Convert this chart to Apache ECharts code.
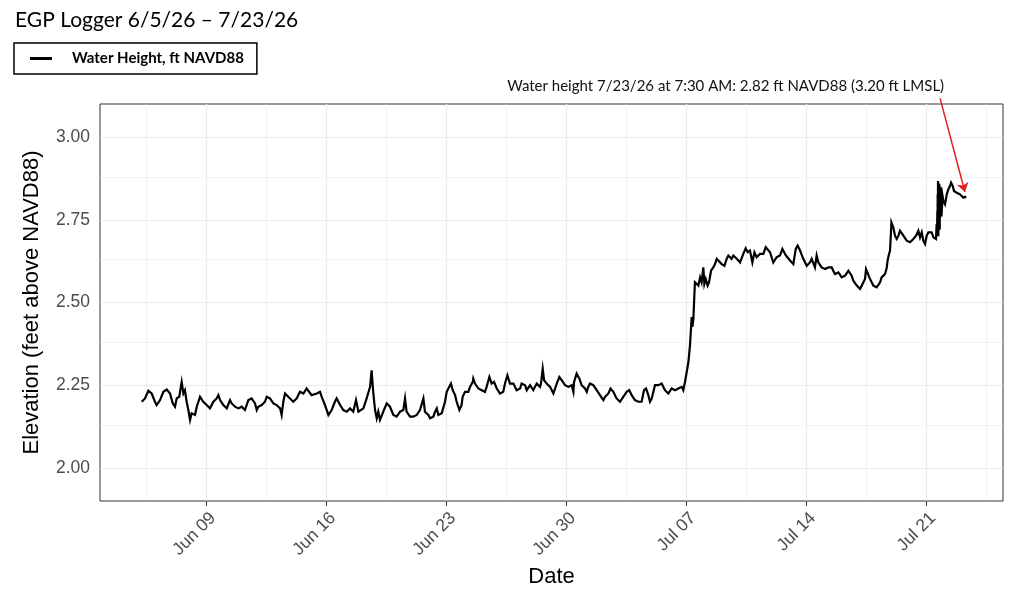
<!DOCTYPE html>
<html>
<head>
<meta charset="utf-8">
<title>EGP Logger 6/5/26 - 7/23/26</title>
<script src="https://cdn.jsdelivr.net/npm/echarts@6/dist/echarts.min.js"></script>
<style>
    html, body { margin: 0; padding: 0; background: #fff; }
    #chart { width: 1024px; height: 593px; }
</style>
</head>
<body>
<div id="chart"></div>
<script>
// [days since 6/5/26 00:00, water height ft NAVD88]
var readingsEarlyJun = [
    [0.21, 2.200], [0.30, 2.195], [0.40, 2.210], [0.60, 2.233], [0.79, 2.225], [0.98, 2.200], [1.08, 2.190],
    [1.28, 2.205], [1.47, 2.230], [1.67, 2.237], [1.86, 2.225], [2.02, 2.195], [2.15, 2.185], [2.25, 2.210],
    [2.40, 2.215], [2.54, 2.260], [2.64, 2.225], [2.73, 2.235], [2.83, 2.200], [2.93, 2.175], [3.03, 2.145],
    [3.12, 2.165], [3.32, 2.160], [3.42, 2.185], [3.61, 2.215], [3.71, 2.220], [3.80, 2.200], [4.00, 2.190],
    [4.19, 2.180], [4.29, 2.185], [4.39, 2.200], [4.58, 2.210], [4.68, 2.220], [4.78, 2.205], [4.97, 2.190],
    [5.17, 2.180], [5.36, 2.205], [5.46, 2.195], [5.65, 2.185], [5.85, 2.180], [6.04, 2.185], [6.23, 2.175],
    [6.43, 2.205], [6.62, 2.210], [6.82, 2.195], [6.92, 2.175], [7.01, 2.185], [7.21, 2.190], [7.40, 2.200],
    [7.50, 2.215], [7.69, 2.210], [7.89, 2.195], [8.08, 2.190], [8.28, 2.180], [8.37, 2.160], [8.47, 2.200],
    [8.57, 2.225], [8.67, 2.225], [8.86, 2.210], [9.05, 2.200], [9.25, 2.210], [9.44, 2.230], [9.64, 2.225],
    [9.83, 2.240], [9.93, 2.245], [10.12, 2.220], [10.22, 2.215], [10.42, 2.225], [10.61, 2.230], [10.71, 2.215],
    [10.90, 2.190], [11.10, 2.160], [11.29, 2.175], [11.48, 2.200], [11.58, 2.210], [11.78, 2.190], [11.97, 2.175],
    [12.17, 2.170], [12.36, 2.180], [12.46, 2.185], [12.55, 2.170], [12.71, 2.205], [12.85, 2.170], [13.14, 2.180],
    [13.33, 2.210], [13.53, 2.245], [13.62, 2.295], [13.72, 2.225], [13.82, 2.175], [13.92, 2.150], [14.01, 2.170],
    [14.11, 2.145], [14.30, 2.170], [14.50, 2.195], [14.69, 2.185], [14.89, 2.160], [15.08, 2.155], [15.28, 2.170],
    [15.47, 2.175], [15.57, 2.210], [15.66, 2.170], [15.86, 2.155], [16.05, 2.155], [16.25, 2.160], [16.44, 2.175]
];
var readingsLateJun = [
    [16.54, 2.170], [16.64, 2.210], [16.73, 2.170], [16.93, 2.160], [17.03, 2.150], [17.22, 2.155], [17.32, 2.170],
    [17.42, 2.180], [17.51, 2.160], [17.71, 2.165], [17.80, 2.170], [17.90, 2.200], [18.00, 2.230], [18.15, 2.245],
    [18.25, 2.255], [18.35, 2.235], [18.49, 2.220], [18.58, 2.200], [18.74, 2.175], [18.87, 2.190], [18.93, 2.215],
    [19.07, 2.230], [19.26, 2.230], [19.36, 2.245], [19.52, 2.260], [19.55, 2.270], [19.65, 2.255], [19.75, 2.260],
    [19.85, 2.240], [20.04, 2.235], [20.23, 2.230], [20.33, 2.245], [20.49, 2.275], [20.62, 2.255], [20.76, 2.260],
    [20.92, 2.240], [21.11, 2.225], [21.30, 2.230], [21.40, 2.255], [21.54, 2.280], [21.69, 2.255], [21.89, 2.255],
    [22.08, 2.235], [22.28, 2.240], [22.37, 2.255], [22.57, 2.250], [22.67, 2.235], [22.86, 2.250], [23.05, 2.235],
    [23.25, 2.255], [23.44, 2.245], [23.50, 2.255], [23.60, 2.300], [23.68, 2.265], [23.83, 2.255], [24.03, 2.245],
    [24.22, 2.225], [24.32, 2.240], [24.42, 2.255], [24.57, 2.275], [24.71, 2.265], [24.90, 2.250], [25.10, 2.245],
    [25.29, 2.250], [25.39, 2.230], [25.43, 2.260], [25.58, 2.285], [25.74, 2.270], [25.87, 2.250], [26.07, 2.240],
    [26.17, 2.230], [26.26, 2.245], [26.36, 2.255], [26.55, 2.250], [26.75, 2.235], [26.94, 2.220], [27.14, 2.205],
    [27.24, 2.215], [27.43, 2.225], [27.56, 2.240], [27.72, 2.230], [27.91, 2.210], [28.11, 2.200], [28.30, 2.215],
    [28.50, 2.230], [28.65, 2.235], [28.79, 2.220], [28.98, 2.205], [29.18, 2.200], [29.37, 2.200], [29.51, 2.235],
    [29.63, 2.240], [29.76, 2.220], [29.86, 2.200], [29.96, 2.210], [30.15, 2.250], [30.35, 2.250], [30.54, 2.255],
    [30.73, 2.235], [30.93, 2.225], [31.12, 2.240], [31.32, 2.235], [31.51, 2.240], [31.71, 2.245]
];
var readingsEarlyJul = [
    [31.80, 2.235], [31.90, 2.260], [32.00, 2.290], [32.10, 2.320], [32.19, 2.370], [32.25, 2.421], [32.29, 2.456],
    [32.33, 2.426], [32.39, 2.451], [32.45, 2.526], [32.48, 2.561], [32.58, 2.566], [32.68, 2.551], [32.78, 2.576],
    [32.87, 2.561], [32.97, 2.606], [33.03, 2.556], [33.11, 2.571], [33.22, 2.551], [33.30, 2.561], [33.42, 2.596],
    [33.55, 2.606], [33.65, 2.616], [33.75, 2.632], [33.85, 2.627], [34.04, 2.616], [34.20, 2.611], [34.33, 2.632],
    [34.43, 2.642], [34.53, 2.647], [34.62, 2.632], [34.72, 2.642], [34.92, 2.632], [35.11, 2.621], [35.30, 2.647],
    [35.44, 2.664], [35.56, 2.652], [35.69, 2.657], [35.83, 2.621], [35.95, 2.652], [36.08, 2.637], [36.28, 2.647],
    [36.47, 2.647], [36.61, 2.667], [36.72, 2.672], [36.86, 2.652], [37.05, 2.621], [37.25, 2.637], [37.44, 2.642],
    [37.58, 2.662], [37.66, 2.667], [37.79, 2.642], [38.03, 2.627], [38.22, 2.616], [38.36, 2.662], [38.47, 2.672],
    [38.61, 2.657], [38.80, 2.632], [39.00, 2.611], [39.19, 2.621], [39.29, 2.632], [39.48, 2.606], [39.58, 2.642],
    [39.68, 2.621], [39.87, 2.606], [40.07, 2.601], [40.26, 2.606]
];
var readingsLateJul = [
    [40.36, 2.608], [40.46, 2.606], [40.55, 2.596], [40.65, 2.586], [40.85, 2.591], [41.04, 2.576], [41.24, 2.581],
    [41.43, 2.596], [41.53, 2.601], [41.62, 2.581], [41.72, 2.566], [41.82, 2.571], [41.92, 2.551], [42.01, 2.556],
    [42.11, 2.541], [42.21, 2.551], [42.30, 2.546], [42.40, 2.571], [42.46, 2.601], [42.54, 2.591], [42.65, 2.576],
    [42.79, 2.561], [42.89, 2.551], [42.98, 2.556], [43.08, 2.546], [43.18, 2.551], [43.28, 2.561], [43.37, 2.576],
    [43.47, 2.581], [43.57, 2.586], [43.67, 2.606], [43.72, 2.627], [43.78, 2.642], [43.86, 2.657], [43.90, 2.697],
    [43.94, 2.742], [44.00, 2.747], [44.05, 2.727], [44.15, 2.702], [44.25, 2.692], [44.35, 2.702], [44.44, 2.717],
    [44.54, 2.712], [44.64, 2.702], [44.73, 2.697], [44.83, 2.687], [44.93, 2.692], [45.03, 2.682], [45.12, 2.687],
    [45.22, 2.692], [45.38, 2.702], [45.51, 2.717], [45.61, 2.697], [45.71, 2.712], [45.80, 2.687], [45.90, 2.677],
    [46.00, 2.702], [46.10, 2.712], [46.19, 2.707], [46.29, 2.712], [46.39, 2.697], [46.54, 2.692], [46.58, 2.737],
    [46.60, 2.700], [46.62, 2.777], [46.63, 2.720], [46.64, 2.827], [46.65, 2.740], [46.66, 2.867], [46.67, 2.760],
    [46.68, 2.700], [46.69, 2.830], [46.70, 2.777], [46.71, 2.720], [46.72, 2.860], [46.73, 2.780], [46.74, 2.857],
    [46.75, 2.740], [46.76, 2.720], [46.77, 2.830], [46.78, 2.757], [46.79, 2.800], [46.80, 2.850], [46.81, 2.770],
    [46.83, 2.847], [46.85, 2.780], [46.86, 2.760], [46.89, 2.787], [46.93, 2.820], [46.97, 2.807],
    [47.07, 2.797], [47.17, 2.827], [47.26, 2.842], [47.36, 2.852], [47.42, 2.862], [47.52, 2.852], [47.59, 2.837],
    [47.65, 2.842], [47.75, 2.832], [47.85, 2.827], [47.94, 2.827], [48.04, 2.822], [48.14, 2.817], [48.23, 2.812],
    [48.31, 2.820]
];

var tickDays = [4, 11, 18, 25, 32, 39, 46];
var tickLabels = ['Jun 09', 'Jun 16', 'Jun 23', 'Jun 30', 'Jul 07', 'Jul 14', 'Jul 21'];
var minorDays = [0.5, 7.5, 14.5, 21.5, 28.5, 35.5, 42.5, 49.5];
var yTicks = [2.00, 2.25, 2.50, 2.75, 3.00];
var yMinor = [2.125, 2.375, 2.625, 2.875];

// annotation arrow, from under the note down to the last reading
var arrowFrom = [46.78, 3.117];
var arrowTo = [48.23, 2.834];
var noteText = 'Water height 7/23/26 at 7:30 AM: 2.82 ft NAVD88 (3.20 ft LMSL)';

var seriesName = 'Water Height, ft NAVD88';
var axisFont = 'Liberation Sans';
var noteFont = 'Lato';

var chart = echarts.init(document.getElementById('chart'));

function gridLines() {
    var lines = [];
    tickDays.forEach(function (d) { lines.push({ xAxis: d }); });
    minorDays.forEach(function (d) { lines.push({ xAxis: d, lineStyle: { width: 0.6 } }); });
    yTicks.forEach(function (v) { lines.push({ yAxis: v }); });
    yMinor.forEach(function (v) { lines.push({ yAxis: v, lineStyle: { width: 0.6 } }); });
    return lines;
}

var option = {
    animation: false,
    backgroundColor: '#fff',
    title: {
        text: 'EGP Logger 6/5/26 \u2013 7/23/26',
        left: 10,
        top: 5,
        textStyle: { fontFamily: noteFont, fontWeight: 'normal', fontSize: 21, color: '#000' }
    },
    legend: {
        data: [seriesName],
        left: 14,
        top: 43,
        padding: [8, 13, 8, 16],
        icon: 'rect',
        itemWidth: 22,
        itemHeight: 3,
        borderColor: '#000',
        borderWidth: 1.5,
        selectedMode: false,
        textStyle: { fontFamily: noteFont, fontWeight: 'bold', fontSize: 15, color: '#000', padding: [0, 0, 0, 15] }
    },
    grid: {
        left: 100,
        right: 21,
        top: 104,
        bottom: 92,
        show: true,
        borderColor: '#333',
        borderWidth: 1,
        containLabel: false
    },
    xAxis: {
        type: 'value',
        min: -2.224,
        max: 50.45,
        name: 'Date',
        nameLocation: 'middle',
        nameGap: 62,
        nameTextStyle: { fontFamily: axisFont, fontSize: 22, color: '#000' },
        axisLine: { show: false },
        splitLine: { show: false },
        axisTick: { show: true, length: 5, customValues: tickDays, lineStyle: { color: '#333', width: 1 } },
        axisLabel: {
            customValues: tickDays,
            rotate: 45,
            margin: 8,
            verticalAlign: 'top',
            fontFamily: axisFont,
            fontSize: 17.5,
            color: '#4d4d4d',
            formatter: function (v) {
                var i = tickDays.indexOf(Math.round(v));
                return i < 0 ? '' : tickLabels[i];
            }
        }
    },
    yAxis: {
        type: 'value',
        min: 1.9,
        max: 3.1,
        name: 'Elevation (feet above NAVD88)',
        nameLocation: 'middle',
        nameGap: 57,
        nameTextStyle: { fontFamily: axisFont, fontSize: 22, color: '#000' },
        axisLine: { show: false },
        splitLine: { show: false },
        axisTick: { show: true, length: 5, customValues: yTicks, lineStyle: { color: '#333', width: 1 } },
        axisLabel: {
            customValues: yTicks,
            margin: 10,
            fontFamily: axisFont,
            fontSize: 17.5,
            color: '#4d4d4d',
            formatter: function (v) { return v.toFixed(2); }
        }
    },
    series: [{
        name: 'grid',
        type: 'line',
        data: [],
        silent: true,
        z: 1,
        markLine: {
            silent: true,
            z: 1,
            symbol: 'none',
            label: { show: false },
            emphasis: { disabled: true },
            lineStyle: { color: '#ebebeb', width: 1.2, type: 'solid' },
            data: gridLines()
        }
    }, {
        name: seriesName,
        type: 'line',
        data: readingsEarlyJun.concat(readingsLateJun, readingsEarlyJul, readingsLateJul),
        showSymbol: false,
        symbol: 'none',
        clip: false,
        z: 3,
        lineStyle: { color: '#000', width: 2.2, join: 'miter' },
        itemStyle: { color: '#000' },
        emphasis: { disabled: true }
    }]
};
chart.setOption(option);

// the arrow starts above the panel, so place it through the axes' own scale
var p0 = chart.convertToPixel({ gridIndex: 0 }, arrowFrom);
chart.setOption({
    graphic: [{
        type: 'text',
        x: p0[0] + 4,
        y: p0[1] - 5,
        style: {
            text: noteText,
            align: 'right',
            verticalAlign: 'bottom',
            fontFamily: noteFont,
            fontSize: 15,
            fill: '#111'
        }
    }],
    series: [{}, {
        markLine: {
            silent: true,
            symbol: ['none', 'arrow'],
            symbolSize: 9,
            label: { show: false },
            emphasis: { disabled: true },
            lineStyle: { color: '#dd2222', width: 1.5, type: 'solid' },
            data: [[{ x: p0[0], y: p0[1] }, { coord: arrowTo }]]
        }
    }]
});
</script>
</body>
</html>
